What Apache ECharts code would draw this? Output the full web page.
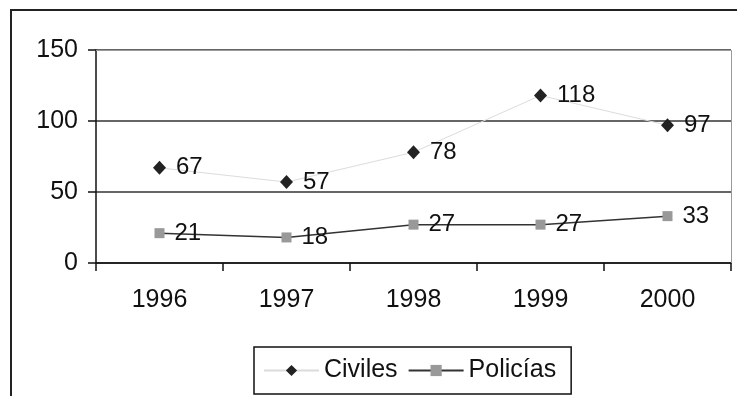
<!DOCTYPE html>
<html>
<head>
<meta charset="utf-8">
<script src="https://cdn.jsdelivr.net/npm/echarts@6/dist/echarts.min.js"></script>
<style>
  html, body { margin: 0; padding: 0; background: #fff; }
  #chart { width: 737px; height: 396px; }
</style>
</head>
<body>
<div id="chart"></div>
<script>
// Years and yearly counts per group
const years = ['1996', '1997', '1998', '1999', '2000'];
const civiles = [67, 57, 78, 118, 97];
const policias = [21, 18, 27, 27, 33];
const yTicks = { min: 0, max: 150, step: 50 };

const FONT = '"Liberation Sans", Arial, sans-serif';
const chart = echarts.init(document.getElementById('chart'), null, { renderer: 'canvas' });

const labelStyle = {
  show: true,
  position: 'right',
  distance: 10,
  color: '#111',
  fontSize: 24,
  fontFamily: FONT
};

chart.setOption({
  animation: false,
  backgroundColor: '#fff',
  textStyle: { fontFamily: FONT },
  graphic: [{
    type: 'rect',
    shape: { x: 11, y: 10, width: 740, height: 400 },
    style: { fill: 'none', stroke: '#222', lineWidth: 2 },
    silent: true,
    z: 100
  }, {
    // plot area border (top and right edges)
    type: 'polyline',
    shape: { points: [[96, 50.5], [731.5, 50.5], [731.5, 263]] },
    style: { stroke: '#999', lineWidth: 1, fill: 'none' },
    silent: true,
    z: 1
  }],
  grid: { left: 96, right: 6, top: 50, bottom: 133, containLabel: false },
  legend: {
    left: 254,
    top: 347,
    itemGap: 10,
    itemWidth: 55,
    itemHeight: 14,
    padding: [11, 15, 11, 9],
    borderColor: '#111',
    borderWidth: 1.5,
    borderRadius: 0,
    textStyle: { fontSize: 25, color: '#111', fontFamily: FONT },
    data: ['Civiles', 'Policías']
  },
  xAxis: {
    type: 'category',
    data: years,
    boundaryGap: true,
    axisLine: { lineStyle: { color: '#111', width: 1.5 } },
    axisTick: { show: true, inside: false, length: 8, lineStyle: { color: '#111', width: 1.5 } },
    axisLabel: { color: '#111', fontSize: 25, margin: 25, fontFamily: FONT },
    splitLine: { show: false }
  },
  yAxis: {
    type: 'value',
    min: yTicks.min,
    max: yTicks.max,
    interval: yTicks.step,
    axisLine: { show: true, lineStyle: { color: '#111', width: 1.5 } },
    axisTick: { show: true, inside: false, length: 8, lineStyle: { color: '#111', width: 1.5 } },
    axisLabel: { color: '#111', fontSize: 25, margin: 18, fontFamily: FONT },
    splitLine: { show: true, lineStyle: { color: '#333', width: 1.5 } }
  },
  series: [{
    name: 'Civiles',
    type: 'line',
    data: civiles,
    symbol: 'diamond',
    symbolSize: [13, 14],
    itemStyle: { color: '#222' },
    lineStyle: { color: '#dcdcdc', width: 1 },
    label: labelStyle,
    z: 3
  }, {
    name: 'Policías',
    type: 'line',
    data: policias,
    symbol: 'rect',
    symbolSize: 10,
    itemStyle: { color: '#999' },
    lineStyle: { color: '#333', width: 1.5 },
    label: labelStyle,
    z: 3
  }]
});
</script>
</body>
</html>
